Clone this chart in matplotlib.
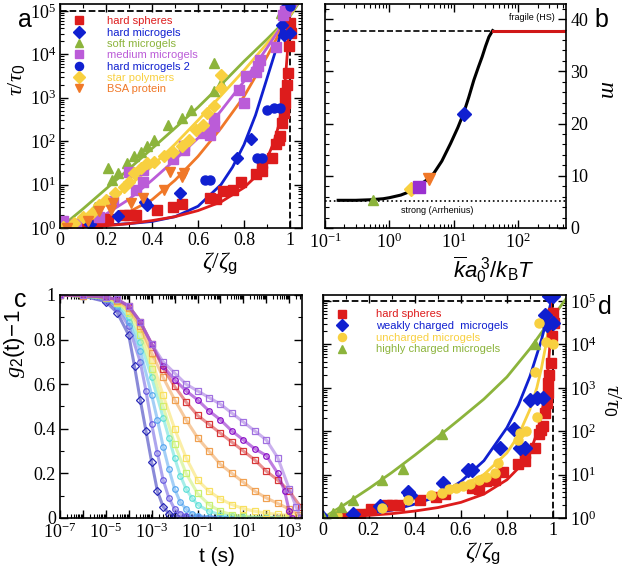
import numpy as np
import matplotlib
matplotlib.use('Agg')
import matplotlib.pyplot as plt
from matplotlib.ticker import LogLocator, MultipleLocator, NullFormatter

plt.rcParams['font.family'] = ['Liberation Serif', 'DejaVu Serif']
plt.rcParams['mathtext.fontset'] = 'custom'
plt.rcParams['mathtext.rm'] = 'Liberation Serif'
plt.rcParams['mathtext.it'] = 'Liberation Serif:italic'
plt.rcParams['mathtext.sf'] = 'Liberation Sans'
plt.rcParams['mathtext.bf'] = 'Liberation Sans:italic'   # used for the sans italic label of panel b

SANS = 'Liberation Sans'

# ---------- panel a / d : relaxation time vs zeta/zeta_g (log10 of tau/tau0) ----------
hs_x = [0.08, 0.16, 0.21, 0.28, 0.30, 0.33, 0.42, 0.49, 0.53, 0.65, 0.68, 0.71, 0.75, 0.785, 0.85,
        0.88, 0.88, 0.92, 0.94, 0.95, 0.955, 0.965, 0.975, 0.978, 0.98, 0.985, 0.99, 0.995, 1.0, 1.005]
hs_log = [0.02, 0.1, 0.2, 0.3, 0.3, 0.3, 0.42, 0.48, 0.55, 0.68, 0.66, 0.86, 0.88, 1.05, 1.25,
          1.32, 1.5, 1.62, 1.94, 2.03, 2.12, 2.42, 2.65, 2.88, 3.1, 3.3, 3.57, 4.2, 4.72, 4.5]
hm_x = [0.0, 0.13, 0.25, 0.37, 0.38, 0.52, 0.77, 0.83, 0.965, 0.975, 0.985, 1.0]
hm_log = [0.0, 0.1, 0.28, 0.6, 0.52, 0.8, 1.62, 2.05, 4.68, 4.45, 5.12, 4.5]
hm2_x = [0.63, 0.65, 0.855, 0.88, 0.9, 0.93, 0.955, 1.0]
hm2_log = [1.1, 1.1, 1.62, 1.62, 2.72, 2.76, 2.76, 5.12]
sm_x = [0.0, 0.05, 0.094, 0.15, 0.21, 0.225, 0.25, 0.29, 0.32, 0.35, 0.38, 0.41, 0.47, 0.53,
        0.57, 0.67, 0.70, 0.67, 0.96]
sm_log = [0.0, 0.1, 0.26, 0.49, 1.38, 1.1, 1.26, 1.49, 1.65, 1.76, 1.88, 2.03, 2.38, 2.53,
          2.72, 3.15, 3.34, 3.8, 4.95]
mm_x = [0.015, 0.07, 0.17, 0.23, 0.30, 0.36, 0.36, 0.33, 0.49, 0.54, 0.54, 0.62, 0.65, 0.67,
        0.67, 0.78, 0.80, 0.81, 0.85, 0.86, 0.87, 0.94, 0.97, 0.98]
mm_log = [0.15, 0.1, 0.26, 0.61, 1.3, 1.34, 1.07, 0.88, 1.6, 1.8, 1.88, 2.18, 2.15, 2.34,
          2.53, 3.18, 2.88, 3.49, 3.6, 3.72, 3.88, 4.18, 4.9, 5.0]
sp_x = [0.015, 0.06, 0.1, 0.14, 0.17, 0.2, 0.24, 0.28, 0.3, 0.32, 0.35, 0.38, 0.41, 0.45, 0.49,
        0.53, 0.56, 0.59, 0.62, 0.64, 0.67, 0.7, 0.7]
sp_log = [0.03, 0.12, 0.26, 0.34, 0.53, 0.65, 0.8, 0.95, 1.07, 1.26, 1.38, 1.49, 1.53, 1.65, 1.76,
          1.88, 2.03, 2.26, 2.38, 2.65, 2.8, 3.22, 3.53]
bsa_x = [0.03, 0.12, 0.17, 0.22, 0.23, 0.31, 0.36, 0.45, 0.48, 0.53, 0.54]
bsa_log = [0.0, 0.15, 0.38, 0.42, 0.57, 0.57, 0.68, 0.88, 1.3, 1.18, 1.26]

# fitted curves, panel a
fit_a = {
    'green': ([0, 0.1, 0.2, 0.3, 0.4, 0.5, 0.6, 0.7, 0.8, 0.9, 1.0, 1.035],
              [0, 0.44, 0.9, 1.36, 1.83, 2.3, 2.78, 3.3, 3.84, 4.35, 4.88, 5.16]),
    'yellow': ([0, 0.1, 0.2, 0.3, 0.4, 0.5, 0.6, 0.7, 0.8, 0.9, 0.95, 1.0, 1.03],
               [0, 0.25, 0.56, 0.97, 1.42, 1.93, 2.48, 3.05, 3.63, 4.25, 4.57, 4.9, 5.16]),
    'purple': ([0, 0.1, 0.2, 0.3, 0.4, 0.5, 0.6, 0.7, 0.8, 0.9, 0.95, 1.0, 1.03],
               [0, 0.12, 0.32, 0.66, 1.1, 1.57, 2.07, 2.7, 3.38, 4.15, 4.55, 4.95, 5.16]),
    'orange': ([0, 0.1, 0.2, 0.3, 0.4, 0.5, 0.6, 0.7, 0.8, 0.9, 0.95, 1.0, 1.02],
               [0, 0.06, 0.18, 0.37, 0.65, 1.1, 1.65, 2.3, 3.03, 3.95, 4.45, 4.98, 5.16]),
    'blue': ([0, 0.1, 0.2, 0.3, 0.4, 0.5, 0.6, 0.7, 0.75, 0.8, 0.85, 0.9, 0.95, 0.97, 0.99, 1.0],
             [0, 0.03, 0.07, 0.1, 0.15, 0.26, 0.5, 1.0, 1.4, 1.92, 2.6, 3.45, 4.3, 4.7, 5.05, 5.16]),
    'red': ([0, 0.1, 0.2, 0.3, 0.4, 0.5, 0.6, 0.7, 0.8, 0.85, 0.9, 0.93, 0.95, 0.97, 0.98, 0.99, 1.0],
            [0, 0.02, 0.05, 0.1, 0.17, 0.26, 0.4, 0.6, 0.93, 1.18, 1.6, 1.98, 2.35, 2.95, 3.45, 4.15, 5.16]),
}

# panel d extra data
uc_x = [0.045, 0.06, 0.255, 0.37, 0.47, 0.516, 0.55, 0.58, 0.61, 0.64, 0.68, 0.71, 0.75, 0.76,
        0.85, 0.856, 0.885, 0.93, 0.92, 0.97, 0.94, 1.0]
uc_log = [0.02, 0.07, 0.22, 0.41, 0.53, 0.57, 0.66, 0.7, 0.74, 0.79, 0.87, 0.95, 1.03, 1.26,
          1.8, 1.97, 2.0, 2.33, 3.37, 4.06, 4.49, 4.0]
hc_x = [0.0, 0.045, 0.08, 0.13, 0.255, 0.35, 0.516, 0.92]
hc_log = [0.02, 0.11, 0.26, 0.41, 0.87, 1.14, 1.94, 4.02]

fit_d = {
    'green': ([0, 0.1, 0.2, 0.3, 0.4, 0.5, 0.6, 0.7, 0.8, 0.9, 1.0, 1.057],
              [0, 0.33, 0.68, 1.05, 1.45, 1.87, 2.3, 2.74, 3.25, 3.9, 4.64, 5.05]),
    'blue': ([0, 0.1, 0.2, 0.3, 0.4, 0.5, 0.6, 0.7, 0.8, 0.85, 0.9, 0.95, 0.98, 1.0],
             [0, 0.05, 0.1, 0.18, 0.32, 0.5, 0.84, 1.32, 2.08, 2.6, 3.26, 4.1, 4.72, 5.14]),
    'yellow': ([0, 0.1, 0.2, 0.3, 0.4, 0.5, 0.6, 0.7, 0.8, 0.85, 0.9, 0.93, 0.95, 0.97, 0.99, 1.0],
               [0, 0.1, 0.2, 0.32, 0.44, 0.57, 0.74, 1.0, 1.5, 1.9, 2.5, 3.0, 3.45, 4.0, 4.7, 5.1]),
    'red': ([0, 0.1, 0.2, 0.3, 0.4, 0.5, 0.6, 0.7, 0.8, 0.85, 0.9, 0.93, 0.95, 0.97, 0.98, 0.99, 1.0],
            [0, 0.03, 0.06, 0.1, 0.16, 0.24, 0.36, 0.55, 0.88, 1.15, 1.5, 1.95, 2.35, 3.0, 3.5, 4.2, 5.14]),
}

# ---------- panel b : fragility m vs stiffness ----------
k_curve = [0.16, 0.3, 0.5, 0.8, 1.0, 1.5, 2.0, 2.7, 3.7, 4.9, 6.5, 8.9, 11.5, 14.1, 17, 20.4, 24, 27.5, 31, 35, 40]
m_curve = [5.3, 5.3, 5.4, 5.6, 5.8, 6.3, 6.9, 7.9, 9.1, 10.5, 12.8, 16.2, 19.2, 21.9, 25.0, 28.3, 30.8,
           32.8, 34.8, 36.6, 37.8]
k_hs = [40, 550]
m_hs = [37.8, 37.8]
m_fragile = 37.8
m_strong = 5.1
k_pts = [0.55, 2.2, 2.84, 4.07, 14.5]
m_pts = [5.3, 7.4, 7.9, 9.3, 21.9]

# ---------- panel c : g2(t)-1 (log10 t, g) ----------
c_curves = [
    ('#2a2ab8', 'D', [-7, -6, -5, -4.5, -4, -3.75, -3.5, -3.25, -3, -2.75, -2.5, -2.25, -2, -1.5, -1, 0, 1, 2, 2.4],
     [1, 0.995, 0.97, 0.92, 0.82, 0.68, 0.53, 0.39, 0.25, 0.12, 0.05, 0.02, 0.008, 0.003, 0.002, 0.001, 0.001, 0.001, 0.001]),
    ('#6a5ce0', 'o', [-7, -6, -5, -4.5, -4, -3.5, -3.25, -3, -2.75, -2.5, -2.25, -2, -1.75, -1.5, -1, 0, 1, 2, 2.5],
     [1, 0.995, 0.975, 0.94, 0.86, 0.7, 0.57, 0.42, 0.29, 0.17, 0.09, 0.04, 0.02, 0.01, 0.004, 0.002, 0.001, 0.001, 0.001]),
    ('#5aa8f0', 'o', [-7, -6, -5, -4.5, -4, -3.5, -3, -2.75, -2.5, -2.25, -2, -1.75, -1.5, -1.25, -1, -0.5, 0, 1, 2, 2.5],
     [1, 0.995, 0.98, 0.95, 0.88, 0.75, 0.55, 0.44, 0.32, 0.22, 0.13, 0.07, 0.04, 0.02, 0.01, 0.005, 0.003, 0.001, 0.001, 0.001]),
    ('#5ee0d8', 'o', [-7, -6, -5, -4.5, -4, -3.5, -3, -2.5, -2.25, -2, -1.75, -1.5, -1.25, -1, -0.5, 0, 0.5, 1, 2, 3],
     [1, 0.995, 0.985, 0.96, 0.9, 0.79, 0.63, 0.45, 0.36, 0.27, 0.19, 0.13, 0.09, 0.06, 0.03, 0.015, 0.008, 0.005, 0.002, 0.001]),
    ('#c8f070', 's', [-7, -6, -5, -4.5, -4, -3.5, -3, -2.5, -2, -1.5, -1, -0.5, 0, 0.5, 1, 2, 3],
     [1, 0.995, 0.985, 0.965, 0.92, 0.82, 0.67, 0.5, 0.33, 0.2, 0.11, 0.06, 0.03, 0.015, 0.008, 0.003, 0.002]),
    ('#f8e060', 's', [-7, -6, -5, -4.5, -4, -3.5, -3, -2.5, -2, -1.5, -1, -0.5, 0, 0.5, 1, 1.5, 2, 2.5, 3, 3.5],
     [1, 0.995, 0.99, 0.97, 0.93, 0.85, 0.71, 0.55, 0.4, 0.27, 0.17, 0.12, 0.085, 0.06, 0.042, 0.03, 0.022, 0.016, 0.012, 0.006]),
    ('#f0a050', 's', [-7, -6, -5, -4.5, -4, -3.5, -3, -2.5, -2, -1.5, -1, -0.5, 0, 0.5, 1, 1.5, 2, 2.5, 3, 3.4],
     [1, 0.995, 0.99, 0.975, 0.94, 0.86, 0.74, 0.63, 0.53, 0.44, 0.36, 0.3, 0.24, 0.2, 0.16, 0.12, 0.09, 0.065, 0.04, 0.015]),
    ('#d83838', 's', [-7, -6, -5, -4.5, -4, -3.5, -3, -2.5, -2, -1.5, -1, -0.5, 0, 0.5, 1, 1.5, 2, 2.5, 3, 3.5],
     [1, 0.998, 0.99, 0.98, 0.95, 0.88, 0.78, 0.67, 0.59, 0.52, 0.46, 0.42, 0.38, 0.34, 0.3, 0.26, 0.21, 0.17, 0.12, 0.05]),
    ('#8a10c8', 'o', [-7, -6, -5, -4.5, -4, -3.5, -3, -2.5, -2, -1.5, -1, -0.5, 0, 0.5, 1, 1.5, 2, 2.5, 2.8, 3, 3.1],
     [1, 0.998, 0.99, 0.98, 0.95, 0.88, 0.78, 0.68, 0.62, 0.57, 0.53, 0.48, 0.44, 0.39, 0.35, 0.31, 0.28, 0.2, 0.12, 0.03, 0.0]),
    ('#a070e0', 's', [-7, -6, -5, -4.5, -4, -3.5, -3, -2.5, -2, -1.5, -1, -0.5, 0, 0.5, 1, 1.5, 2, 2.5, 3, 3.3, 3.5],
     [1, 0.998, 0.99, 0.98, 0.95, 0.88, 0.78, 0.7, 0.65, 0.6, 0.57, 0.54, 0.51, 0.47, 0.43, 0.39, 0.35, 0.27, 0.13, 0.05, 0.0]),
]

RED = '#dd1c1c'
BLUE = '#1020d0'
GREEN = '#8cb43c'
PURPLE = '#bb5cd8'
YELLOW = '#f8d040'
ORANGE = '#f07828'


def exp10(v):
    return 10.0 ** np.asarray(v)


def style_ax(ax):
    ax.tick_params(which='both', direction='in', top=True, bottom=True, left=True, right=True,
                   labelsize=13, pad=3)
    ax.tick_params(which='major', length=6, width=1)
    ax.tick_params(which='minor', length=3, width=0.8)
    for s in ax.spines.values():
        s.set_linewidth(1.2)


def log_y(ax, top):
    ax.set_yscale('log')
    ax.set_ylim(1, top)
    ax.yaxis.set_major_locator(LogLocator(base=10, numticks=10))
    ax.yaxis.set_minor_locator(LogLocator(base=10, subs=np.arange(2, 10), numticks=20))
    ax.yaxis.set_minor_formatter(NullFormatter())


def right_label(ax, text, x, y, size):
    ax.yaxis.set_label_position('right')
    ax.set_ylabel(text, fontsize=size, rotation=270)
    ax.yaxis.label.set_va('bottom')
    ax.yaxis.set_label_coords(x, y)


fig = plt.figure(figsize=(6.25, 5.77), dpi=100)
ax_a = fig.add_axes([0.096, 0.6049, 0.3872, 0.3882])
ax_b = fig.add_axes([0.52, 0.6049, 0.3856, 0.3882])
ax_c = fig.add_axes([0.096, 0.1023, 0.3872, 0.3865])
ax_d = fig.add_axes([0.5168, 0.1023, 0.3888, 0.3865])

# ----- a -----
ax = ax_a
for key, col in [('green', GREEN), ('yellow', YELLOW), ('purple', PURPLE), ('orange', ORANGE),
                 ('blue', BLUE), ('red', RED)]:
    fx, fl = fit_a[key]
    ax.plot(fx, exp10(fl), color=col, lw=2)
ax.plot([0, 1.0], [1e5, 1e5], 'k--', lw=1.3)
ax.plot([1.0, 1.0], [1, 1e5], 'k--', lw=1.3)
ms = 6.5
h = []
h.append(ax.plot(hs_x, exp10(hs_log), 's', color=RED, ms=ms, label='hard spheres')[0])
h.append(ax.plot(hm_x, exp10(hm_log), 'D', color=BLUE, ms=ms, label='hard microgels')[0])
h.append(ax.plot(sm_x, exp10(sm_log), '^', color=GREEN, ms=ms, label='soft microgels')[0])
h.append(ax.plot(mm_x, exp10(mm_log), 's', color=PURPLE, ms=ms, label='medium microgels')[0])
h.append(ax.plot(hm2_x, exp10(hm2_log), 'o', color=BLUE, ms=ms, label='hard microgels 2')[0])
h.append(ax.plot(sp_x, exp10(sp_log), 'D', color=YELLOW, ms=ms, label='star polymers')[0])
h.append(ax.plot(bsa_x, exp10(bsa_log), 'v', color=ORANGE, ms=ms, label='BSA protein')[0])
ax.legend(handles=h, loc='upper left', bbox_to_anchor=(0.055, 0.945), frameon=False,
          prop={'family': SANS, 'size': 8}, handlelength=1.0, handletextpad=2.0,
          labelspacing=0.12, borderpad=0, borderaxespad=0, markerscale=0.9,
          labelcolor=[RED, BLUE, GREEN, PURPLE, BLUE, YELLOW, ORANGE])
ax.set_xlim(0, 1.052)
log_y(ax, 10 ** 5.16)
ax.set_xticks([0, 0.2, 0.4, 0.6, 0.8, 1.0], ['0', '0.2', '0.4', '0.6', '0.8', '1'])
ax.xaxis.set_minor_locator(MultipleLocator(0.1))
style_ax(ax)
ax.set_xlabel(r'$\zeta/\zeta_{\mathsf{g}}$', fontsize=17)
ax.xaxis.set_label_coords(0.66, -0.1)
ax.set_ylabel(r'$\tau/\tau_{\mathsf{0}}$', fontsize=16)
ax.yaxis.set_label_coords(-0.135, 0.66)

# ----- b -----
ax = ax_b
ax.axhline(m_fragile, color='k', ls='--', lw=1.2)
ax.axhline(m_strong, color='k', ls=':', lw=1.2)
ax.plot(k_curve, m_curve, color='k', lw=2.2)
ax.plot(k_hs, m_hs, color='#d01818', lw=2.2)
ax.plot(k_pts[0], m_pts[0], '^', color=GREEN, ms=7)
ax.plot(k_pts[1], m_pts[1], 'D', color=YELLOW, ms=7)
ax.plot(k_pts[2], m_pts[2], 's', color='#9a30d0', ms=9)
ax.plot(k_pts[3], m_pts[3], 'v', color=ORANGE, ms=9)
ax.plot(k_pts[4], m_pts[4], 'D', color=BLUE, ms=7)
ax.text(370, 40.3, 'fragile (HS)', family=SANS, fontsize=6.5, ha='right', va='center')
ax.text(5.5, 3.4, 'strong (Arrhenius)', family=SANS, fontsize=6.5, ha='center', va='center')
ax.set_xscale('log')
ax.set_xlim(0.1, 550)
ax.set_ylim(0, 42.9)
ax.xaxis.set_major_locator(LogLocator(base=10, numticks=10))
ax.xaxis.set_minor_locator(LogLocator(base=10, subs=np.arange(2, 10), numticks=20))
ax.xaxis.set_minor_formatter(NullFormatter())
ax.yaxis.set_major_locator(MultipleLocator(10))
ax.yaxis.set_minor_locator(MultipleLocator(2))
style_ax(ax)
ax.tick_params(labelleft=False, labelright=True)
right_label(ax, r'$m$', 1.125, 0.62, 17)
ax.set_xlabel(r'$\overline{\mathbf{k}}\mathbf{a}_{\mathsf{0}}^{\mathsf{\ 3}}\mathsf{/}\mathbf{k}_{\mathsf{B}}\mathbf{T}$',
              fontsize=16)
ax.xaxis.set_label_coords(0.7, -0.12)

# ----- c -----
ax = ax_c
for col, mk, lt, g in c_curves:
    ax.plot(exp10(lt), g, color=col, lw=2.2, alpha=0.55)
    ax.plot(exp10(lt), g, ls='none', marker=mk, ms=4, mfc='none', mec=col, mew=0.9)
ax.set_xscale('log')
ax.set_xlim(1e-7, 3.6e3)
ax.set_ylim(0, 1)
ax.xaxis.set_minor_locator(LogLocator(base=10, subs=np.arange(2, 10), numticks=30))
ax.xaxis.set_minor_formatter(NullFormatter())
ax.set_xticks([10.0 ** e for e in range(-7, 4)],
              [r'$\mathdefault{10^{%d}}$' % e if e % 2 else '' for e in range(-7, 4)])
ax.set_yticks([0, 0.2, 0.4, 0.6, 0.8, 1.0], ['0', '0.2', '0.4', '0.6', '0.8', '1'])
ax.yaxis.set_minor_locator(MultipleLocator(0.1))
style_ax(ax)
ax.set_xlabel('t (s)', family=SANS, fontsize=15)
ax.xaxis.set_label_coords(0.65, -0.13)
ax.set_ylabel(r'$g_{\mathsf{2}}\mathsf{(t)\!-\!1}$', fontsize=16)
ax.yaxis.set_label_coords(-0.135, 0.78)

# ----- d -----
ax = ax_d
for key, col in [('green', GREEN), ('yellow', YELLOW), ('blue', BLUE), ('red', RED)]:
    fx, fl = fit_d[key]
    ax.plot(fx, exp10(fl), color=col, lw=2)
ax.plot([0, 1.0], [1e5, 1e5], 'k--', lw=1.3)
ax.plot([1.0, 1.0], [1, 1e5], 'k--', lw=1.3)
hd = []
hd.append(ax.plot(hs_x, exp10(hs_log), 's', color=RED, ms=7, label='hard spheres')[0])
hd.append(ax.plot(hm_x + hm2_x, exp10(hm_log + hm2_log), 'D', color=BLUE, ms=7,
                  label='weakly charged  microgels')[0])
hd.append(ax.plot(uc_x, exp10(uc_log), 'o', color=YELLOW, ms=6.5, label='uncharged microgels')[0])
hd.append(ax.plot(hc_x, exp10(hc_log), '^', color=GREEN, ms=7, label='highly charged microgels')[0])
ax.legend(handles=hd, loc='upper left', bbox_to_anchor=(0.055, 0.935), frameon=False,
          prop={'family': SANS, 'size': 8}, handlelength=1.0, handletextpad=2.6,
          labelspacing=0.15, borderpad=0, borderaxespad=0, markerscale=0.9,
          labelcolor=[RED, BLUE, YELLOW, GREEN])
ax.set_xlim(0, 1.057)
log_y(ax, 10 ** 5.14)
ax.set_xticks([0, 0.2, 0.4, 0.6, 0.8, 1.0], ['0', '0.2', '0.4', '0.6', '0.8', '1'])
ax.xaxis.set_minor_locator(MultipleLocator(0.1))
style_ax(ax)
ax.tick_params(labelleft=False, labelright=True)
right_label(ax, r'$\tau/\tau_{\mathsf{0}}$', 1.15, 0.53, 16)
ax.set_xlabel(r'$\zeta/\zeta_{\mathsf{g}}$', fontsize=17)
ax.xaxis.set_label_coords(0.66, -0.1)

for txt, x, y in [('a', 0.04, 0.965), ('b', 0.963, 0.965), ('c', 0.032, 0.48), ('d', 0.968, 0.468)]:
    fig.text(x, y, txt, family=SANS, fontsize=18, ha='center', va='center')

fig.savefig('out.png', dpi=100, facecolor='white')
